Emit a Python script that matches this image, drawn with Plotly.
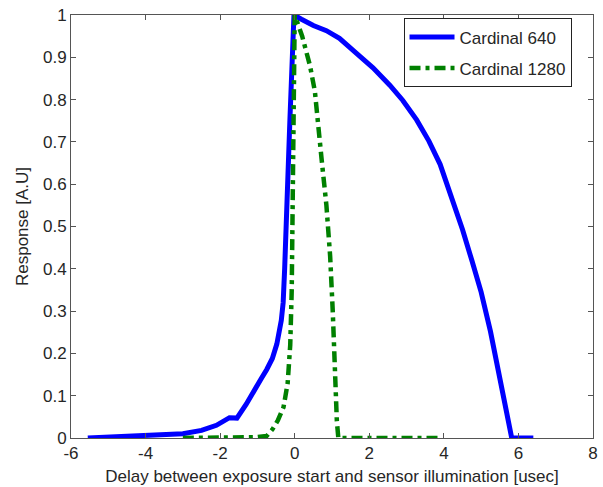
import plotly.graph_objects as go

# Cardinal 640 (solid blue)
c640_x = [-5.55, -5.0, -4.5, -4.0, -3.5, -3.0, -2.5, -2.1, -1.75, -1.55, -1.3, -1.1,
          -0.9, -0.75, -0.6, -0.48, -0.41, -0.36, -0.31, -0.27, -0.13, -0.02, 0.18, 0.5,
          0.85, 1.2, 1.65, 2.1, 2.55, 2.9, 3.27, 3.6, 3.9, 4.2, 4.5, 4.75, 5.0, 5.25,
          5.55, 5.68, 5.82, 6.0, 6.4]
c640_y = [0.0, 0.002, 0.003, 0.005, 0.006, 0.01, 0.018, 0.03, 0.048, 0.047, 0.08, 0.113,
          0.14, 0.162, 0.188, 0.222, 0.25, 0.278, 0.32, 0.40, 0.75, 1.0, 0.99, 0.975,
          0.963, 0.945, 0.91, 0.875, 0.834, 0.798, 0.752, 0.702, 0.647, 0.572, 0.493,
          0.42, 0.345, 0.252, 0.112, 0.055, 0.0, 0.0, 0.0]

# Cardinal 1280 (dash-dot green)
c1280_x = [-3.0, -2.5, -2.0, -1.5, -1.0, -0.75, -0.6, -0.45, -0.3, -0.19, -0.12, -0.08,
           -0.04, -0.02, 0.0, 0.2, 0.41, 0.54, 0.63, 0.72, 0.85, 0.95, 1.02, 1.08, 1.13,
           1.17, 1.5, 2.0, 2.5, 3.0, 3.5, 3.85]
c1280_y = [0.0, 0.0, 0.0, 0.0, 0.002, 0.005, 0.02, 0.042, 0.073, 0.129, 0.22, 0.35,
           0.6, 0.85, 1.0, 0.95, 0.88, 0.82, 0.75, 0.66, 0.55, 0.43, 0.3, 0.13, 0.04,
           0.0, 0.0, 0.0, 0.0, 0.0, 0.0, 0.0]

x_ticks = [-6, -4, -2, 0, 2, 4, 6, 8]
y_ticks = [0, 0.1, 0.2, 0.3, 0.4, 0.5, 0.6, 0.7, 0.8, 0.9, 1]
y_tick_labels = ["0", "0.1", "0.2", "0.3", "0.4", "0.5", "0.6", "0.7", "0.8", "0.9", "1"]

FONT = "Liberation Sans, Arial, sans-serif"
TXT = "#262626"
FS = 17

fig = go.Figure()
fig.add_trace(go.Scatter(x=c640_x, y=c640_y, mode="lines", name="Cardinal 640",
                         legendgroup="a",
                         line=dict(color="#0000FF", width=5)))
fig.add_trace(go.Scatter(x=c1280_x, y=c1280_y, mode="lines", name="Cardinal 1280",
                         legendgroup="b",
                         line=dict(color="#008000", width=4.5, dash="11px,5px,4px,5px")))

axis_common = dict(showgrid=False, zeroline=False, showline=True, linecolor="#555555",
                   linewidth=1, mirror="ticks", ticks="inside", ticklen=5,
                   tickcolor="#555555", tickfont=dict(family=FONT, size=FS, color=TXT))

fig.update_xaxes(range=[-6, 8], tickvals=x_ticks, ticktext=[str(v) for v in x_ticks],
                 title=dict(text="Delay between exposure start and sensor illumination [usec]",
                            font=dict(family=FONT, size=FS, color=TXT), standoff=7),
                 **axis_common)
fig.update_yaxes(range=[0, 1], tickvals=y_ticks, ticktext=y_tick_labels,
                 title=dict(text="Response [A.U]", font=dict(family=FONT, size=FS, color=TXT),
                            standoff=10),
                 **axis_common)

fig.update_layout(
    width=603, height=487,
    margin=dict(l=71, r=10, t=15, b=49, autoexpand=False),
    paper_bgcolor="white", plot_bgcolor="white",
    font=dict(family=FONT, size=FS, color=TXT),
    showlegend=True,
    legend=dict(x=0.637, y=0.992, xanchor="left", yanchor="top",
                bgcolor="white", bordercolor="#222222", borderwidth=1,
                font=dict(family=FONT, size=FS, color=TXT),
                traceorder="grouped", tracegroupgap=6,
                itemwidth=45),
)

fig.write_html("out.html")
